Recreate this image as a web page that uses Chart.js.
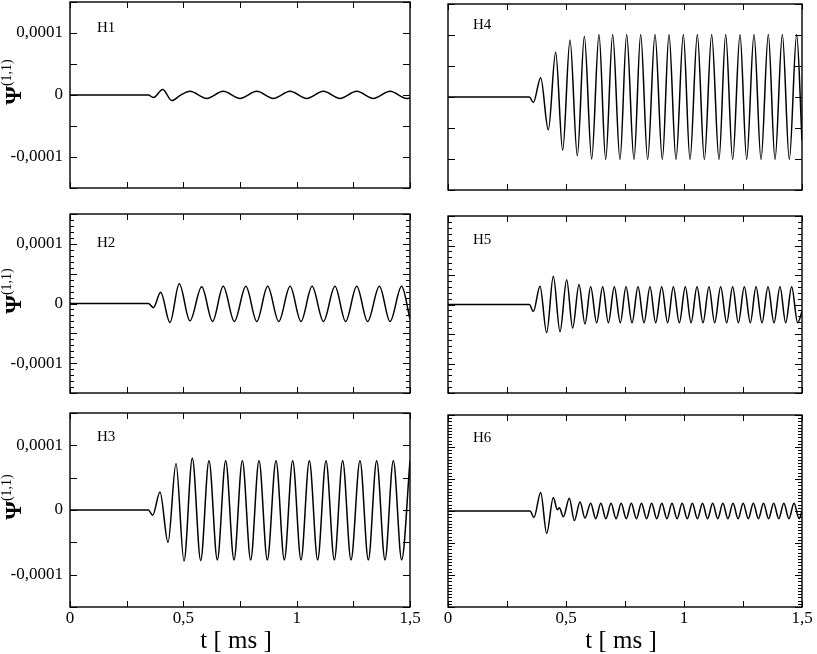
<!DOCTYPE html>
<html>
<head>
<meta charset="utf-8">
<script src="https://cdn.jsdelivr.net/npm/chart.js@4/dist/chart.umd.min.js"></script>
<style>
html,body{margin:0;padding:0;background:#fff;}
#wrap{position:relative;width:817px;height:654px;overflow:hidden;background:#fff;}
#wrap canvas{position:absolute;left:0;top:0;}
.txt{position:absolute;font-family:'Liberation Serif','Times New Roman',serif;color:#000;white-space:nowrap;line-height:1;}
.hname{font-size:15px;}
.xtitle{font-size:25px;transform:translateX(-50%);}
.psi{transform:translate(-50%,-50%) rotate(-90deg);font-size:24px;font-weight:bold;}
.psi sup{font-size:14px;font-weight:normal;vertical-align:10px;line-height:1;}
</style>
</head>
<body>
<div id="wrap"></div>
<script>
// ---------- data (t in ms, Psi in units of 1e-4) ----------
const PSI_UNIT = 1e-4;

const timeH1 = [0, 0.345, 0.368, 0.409, 0.449, 0.485, 0.529, 0.603, 0.676, 0.750, 0.824, 0.897, 0.971, 1.044, 1.118, 1.191, 1.265, 1.338, 1.412, 1.485, 1.5];
const psiH1  = [0, 0, -0.04, 0.09, -0.09, -0.01, 0.06, -0.055, 0.06, -0.055, 0.06, -0.055, 0.06, -0.055, 0.06, -0.055, 0.06, -0.055, 0.06, -0.055, -0.05];

const timeH2 = [0, 0.3456, 0.3676, 0.400, 0.441, 0.482, 0.529, 0.581, 0.629, 0.676, 0.725, 0.776, 0.824, 0.872, 0.921, 0.971, 1.019, 1.068, 1.118, 1.169, 1.216, 1.265, 1.313, 1.365, 1.412, 1.463, 1.5];
const psiH2  = [0, 0, -0.07, 0.19, -0.32, 0.33, -0.29, 0.28, -0.30, 0.29, -0.30, 0.29, -0.30, 0.29, -0.30, 0.29, -0.30, 0.29, -0.30, 0.29, -0.30, 0.29, -0.30, 0.29, -0.30, 0.29, -0.26];

const timeH3 = [0, 0.3456, 0.3647, 0.397, 0.4324, 0.4676, 0.5029, 0.5397, 0.5765, 0.6132, 0.65, 0.6868, 0.7235, 0.7603, 0.7971, 0.8338, 0.8706, 0.9088, 0.9456, 0.9824, 1.0191, 1.0559, 1.0926, 1.1294, 1.1662, 1.2029, 1.2397, 1.2794, 1.3162, 1.3529, 1.3897, 1.4265, 1.4632, 1.5];
const psiH3  = [0, 0, -0.08, 0.28, -0.50, 0.72, -0.79, 0.80, -0.78, 0.76, -0.77, 0.76, -0.77, 0.76, -0.77, 0.76, -0.77, 0.76, -0.77, 0.76, -0.77, 0.76, -0.77, 0.76, -0.77, 0.76, -0.77, 0.76, -0.77, 0.76, -0.77, 0.76, -0.77, 0.76];

const timeH4 = [0, 0.3446, 0.3616, 0.3927, 0.4251, 0.4562, 0.4859, 0.5169, 0.548, 0.5777, 0.6088, 0.6398, 0.6681, 0.6977, 0.7288, 0.7571, 0.7881, 0.8164, 0.846, 0.8771, 0.9082, 0.9364, 0.9661, 0.9972, 1.0254, 1.0565, 1.0862, 1.1172, 1.1483, 1.1766, 1.2062, 1.2373, 1.2655, 1.2966, 1.3263, 1.3573, 1.3856, 1.4167, 1.4463, 1.4774, 1.5];
const psiH4  = [0, 0, -0.09, 0.31, -0.53, 0.72, -0.86, 0.92, -0.95, 0.98, -1.0, 1.01, -1.01, 1.01, -1.01, 1.01, -1.01, 1.01, -1.01, 1.01, -1.01, 1.01, -1.01, 1.01, -1.01, 1.01, -1.01, 1.01, -1.01, 1.01, -1.01, 1.01, -1.01, 1.01, -1.01, 1.01, -1.01, 1.01, -1.01, 1.01, -0.70];

const timeH5 = [0, 0.3446, 0.3616, 0.3898, 0.4181, 0.4463, 0.4746, 0.5028, 0.5282, 0.5551, 0.5805, 0.6045, 0.6299, 0.6554, 0.6794, 0.7048, 0.7302, 0.7542, 0.7797, 0.8051, 0.8305, 0.8559, 0.8799, 0.9054, 0.9308, 0.9548, 0.9802, 1.0056, 1.0297, 1.0551, 1.0805, 1.1059, 1.1299, 1.1554, 1.1808, 1.2062, 1.2302, 1.2556, 1.2811, 1.3051, 1.3305, 1.3559, 1.3814, 1.4068, 1.4308, 1.4562, 1.4816, 1.5];
const psiH5  = [0, 0, -0.12, 0.31, -0.48, 0.48, -0.46, 0.42, -0.40, 0.34, -0.33, 0.30, -0.31, 0.30, -0.31, 0.30, -0.31, 0.30, -0.31, 0.30, -0.31, 0.30, -0.31, 0.30, -0.31, 0.30, -0.31, 0.30, -0.31, 0.30, -0.31, 0.30, -0.31, 0.30, -0.31, 0.30, -0.31, 0.30, -0.31, 0.30, -0.31, 0.30, -0.31, 0.30, -0.31, 0.30, -0.31, -0.12];

const timeH6 = [0, 0.3475, 0.3644, 0.3927, 0.4181, 0.4463, 0.4633, 0.4718, 0.4887, 0.5141, 0.5353, 0.5593, 0.5805, 0.6045, 0.6260, 0.6476, 0.6691, 0.6907, 0.7122, 0.7338, 0.7553, 0.7768, 0.7984, 0.8199, 0.8415, 0.8630, 0.8845, 0.9061, 0.9276, 0.9492, 0.9707, 0.9922, 1.0138, 1.0353, 1.0569, 1.0784, 1.0999, 1.1215, 1.1430, 1.1646, 1.1861, 1.2077, 1.2292, 1.2507, 1.2723, 1.2938, 1.3154, 1.3369, 1.3584, 1.3800, 1.4015, 1.4231, 1.4446, 1.4661, 1.4877, 1.5];
const psiH6  = [0, 0, -0.10, 0.29, -0.35, 0.21, 0.02, 0.05, -0.09, 0.20, -0.15, 0.14, -0.11, 0.12, -0.12, 0.12, -0.12, 0.12, -0.12, 0.12, -0.12, 0.12, -0.12, 0.12, -0.12, 0.12, -0.12, 0.12, -0.12, 0.12, -0.12, 0.12, -0.12, 0.12, -0.12, 0.12, -0.12, 0.12, -0.12, 0.12, -0.12, 0.12, -0.12, 0.12, -0.12, 0.12, -0.12, 0.12, -0.12, 0.12, -0.12, 0.12, -0.12, 0.12, -0.12, 0.0];

const xTickValues = [0, 0.5, 1, 1.5];
const xTickLabels = ['0', '0,5', '1', '1,5'];
const yTickValues = [-1e-4, 0, 1e-4];
const yTickLabels = ['-0,0001', '0', '0,0001'];
const xTitle = 't [ ms ]';

// ---------- layout ----------
const W = 817, H = 654;
const FONT = "'Liberation Serif','Times New Roman',serif";
Chart.defaults.font.family = FONT;
Chart.defaults.font.size = 17;
Chart.defaults.color = '#000';

const panels = [
  {name:'H1', t:timeH1, v:psiH1, area:[70,2,410,188],   yLab:true,  xLab:false, minor:0.5e-4, nameXY:[97,33]},
  {name:'H2', t:timeH2, v:psiH2, area:[70,214,410,393], yLab:true,  xLab:false, minor:1e-5,   nameXY:[97,248]},
  {name:'H3', t:timeH3, v:psiH3, area:[70,413,410,607], yLab:true,  xLab:true,  minor:0.5e-4, nameXY:[97,442]},
  {name:'H4', t:timeH4, v:psiH4, area:[448,4,802,190],  yLab:false, xLab:false, minor:0.5e-4, nameXY:[473,30]},
  {name:'H5', t:timeH5, v:psiH5, area:[448,216,802,393],yLab:false, xLab:false, minor:1e-5,   nameXY:[473,245]},
  {name:'H6', t:timeH6, v:psiH6, area:[448,415,802,607],yLab:false, xLab:true,  minor:5e-6,   nameXY:[473,443]}
];

const innerTicks = {
  id: 'innerTicks',
  afterDraw(chart, _args, o) {
    const {ctx, chartArea: a} = chart;
    const sx = chart.scales.x, sy = chart.scales.y;
    ctx.save();
    ctx.strokeStyle = '#000';
    ctx.lineWidth = 1;
    ctx.beginPath();
    const nx = Math.round((sx.max - sx.min) / o.xStep);
    for (let i = 0; i <= nx; i++) {
      const px = Math.round(sx.getPixelForValue(sx.min + i * o.xStep)) + 0.5;
      ctx.moveTo(px, a.bottom); ctx.lineTo(px, a.bottom - o.xLen);
      ctx.moveTo(px, a.top); ctx.lineTo(px, a.top + o.xLen);
    }
    const ny = Math.round((sy.max - sy.min) / o.yMinor);
    for (let i = 0; i <= ny; i++) {
      const val = sy.min + i * o.yMinor;
      const r = val / o.yMajor;
      const major = Math.abs(r - Math.round(r)) < 1e-6;
      const len = major ? o.majorLen : o.minorLen;
      const py = Math.round(sy.getPixelForValue(val)) + 0.5;
      ctx.moveTo(a.left, py); ctx.lineTo(a.left + len, py);
      ctx.moveTo(a.right, py); ctx.lineTo(a.right - len, py);
    }
    ctx.stroke();
    ctx.lineWidth = 1.4;
    ctx.strokeRect(a.left, a.top, a.right - a.left, a.bottom - a.top);
    ctx.restore();
  }
};

const wrap = document.getElementById('wrap');
function zeroPad(s) { s.paddingLeft = 0; s.paddingRight = 0; s.paddingTop = 0; s.paddingBottom = 0; }
const X_AXIS_H = 40;

panels.forEach(p => {
  const cv = document.createElement('canvas');
  cv.width = W; cv.height = H;
  cv.style.width = W + 'px'; cv.style.height = H + 'px';
  wrap.appendChild(cv);
  const a = p.area;
  const yW = p.yLab ? a[0] : 0;
  const xH = p.xLab ? X_AXIS_H : 0;
  new Chart(cv, {
    type: 'line',
    data: {
      datasets: [{
        data: p.t.map((t, i) => ({x: t, y: p.v[i] * PSI_UNIT})),
        borderColor: '#000',
        borderWidth: 1.5,
        pointRadius: 0,
        cubicInterpolationMode: 'monotone',
        fill: false
      }]
    },
    options: {
      responsive: false,
      animation: false,
      events: [],
      layout: {padding: {left: a[0] - yW, top: a[1], right: W - a[2], bottom: H - a[3] - xH}},
      plugins: {
        legend: {display: false},
        tooltip: {enabled: false},
        innerTicks: {xStep: 0.25, xLen: 6, yMinor: p.minor, yMajor: 0.5e-4, majorLen: 7, minorLen: 4}
      },
      scales: {
        x: {
          type: 'linear', min: 0, max: 1.5,
          grid: {display: false, drawTicks: false},
          border: {display: false},
          afterBuildTicks: s => { s.ticks = xTickValues.map(v => ({value: v})); },
          afterFit: s => { s.height = xH; zeroPad(s); },
          ticks: {
            display: p.xLab, padding: 1, maxRotation: 0, autoSkip: false,
            callback: v => xTickLabels[xTickValues.indexOf(v)]
          }
        },
        y: {
          type: 'linear', min: -1.5e-4, max: 1.5e-4,
          grid: {display: false, drawTicks: false},
          border: {display: false},
          afterBuildTicks: s => { s.ticks = yTickValues.map(v => ({value: v})); },
          afterFit: s => { s.width = yW; zeroPad(s); },
          ticks: {
            display: p.yLab, padding: 7, autoSkip: false,
            callback: v => yTickLabels[yTickValues.indexOf(v)]
          }
        }
      }
    },
    plugins: [innerTicks]
  });

  // panel name
  const nm = document.createElement('div');
  nm.className = 'txt hname';
  nm.textContent = p.name;
  nm.style.left = p.nameXY[0] + 'px';
  nm.style.top = (p.nameXY[1] - 12.6) + 'px';
  wrap.appendChild(nm);

  // y axis title for left column
  if (p.yLab) {
    const zero = (a[1] + a[3]) / 2;
    const ps = document.createElement('div');
    ps.className = 'txt psi';
    ps.innerHTML = 'Ψ<sup>(1,1)</sup>';
    ps.style.left = '12px';
    ps.style.top = (zero - 13) + 'px';
    wrap.appendChild(ps);
  }
  // x axis title for bottom row
  if (p.xLab) {
    const xt = document.createElement('div');
    xt.className = 'txt xtitle';
    xt.textContent = xTitle;
    xt.style.left = ((a[0] + a[2]) / 2 - 4) + 'px';
    xt.style.top = '627px';
    wrap.appendChild(xt);
  }
});
</script>
</body>
</html>
